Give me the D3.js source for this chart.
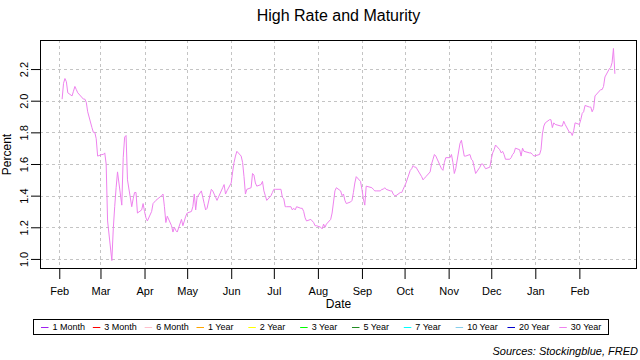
<!DOCTYPE html>
<html><head><meta charset="utf-8">
<script src="https://cdn.jsdelivr.net/npm/d3@7"></script>
<style>
body{margin:0;background:#fff}
svg{display:block}
text{font-family:"Liberation Sans",Arial,sans-serif;fill:#000}
</style>
</head><body>
<svg id="chart" width="640" height="360"></svg>
<script>
// ---- data (30 Year rate, percent) ----
const dates = [
"2020-02-03","2020-02-04","2020-02-05","2020-02-06","2020-02-07","2020-02-10","2020-02-11","2020-02-12","2020-02-13","2020-02-14","2020-02-18","2020-02-19","2020-02-20","2020-02-21","2020-02-24","2020-02-25","2020-02-26","2020-02-27","2020-02-28",
"2020-03-02","2020-03-03","2020-03-04","2020-03-05","2020-03-06","2020-03-09","2020-03-10","2020-03-11","2020-03-12","2020-03-13","2020-03-16","2020-03-17","2020-03-18","2020-03-19","2020-03-20","2020-03-23","2020-03-24","2020-03-25","2020-03-26","2020-03-27","2020-03-30","2020-03-31",
"2020-04-01","2020-04-02","2020-04-03","2020-04-06","2020-04-07","2020-04-08","2020-04-09","2020-04-13","2020-04-14","2020-04-15","2020-04-16","2020-04-17","2020-04-20","2020-04-21","2020-04-22","2020-04-23","2020-04-24","2020-04-27","2020-04-28","2020-04-29","2020-04-30",
"2020-05-01","2020-05-04","2020-05-05","2020-05-06","2020-05-07","2020-05-08","2020-05-11","2020-05-12","2020-05-13","2020-05-14","2020-05-15","2020-05-18","2020-05-19","2020-05-20","2020-05-21","2020-05-22","2020-05-26","2020-05-27","2020-05-28","2020-05-29",
"2020-06-01","2020-06-02","2020-06-03","2020-06-04","2020-06-05","2020-06-08","2020-06-09","2020-06-10","2020-06-11","2020-06-12","2020-06-15","2020-06-16","2020-06-17","2020-06-18","2020-06-19","2020-06-22","2020-06-23","2020-06-24","2020-06-25","2020-06-26","2020-06-29","2020-06-30",
"2020-07-01","2020-07-02","2020-07-06","2020-07-07","2020-07-08","2020-07-09","2020-07-10","2020-07-13","2020-07-14","2020-07-15","2020-07-16","2020-07-17","2020-07-20","2020-07-21","2020-07-22","2020-07-23","2020-07-24","2020-07-27","2020-07-28","2020-07-29","2020-07-30","2020-07-31",
"2020-08-03","2020-08-04","2020-08-05","2020-08-06","2020-08-07","2020-08-10","2020-08-11","2020-08-12","2020-08-13","2020-08-14","2020-08-17","2020-08-18","2020-08-19","2020-08-20","2020-08-21","2020-08-24","2020-08-25","2020-08-26","2020-08-27","2020-08-28","2020-08-31",
"2020-09-01","2020-09-02","2020-09-03","2020-09-04","2020-09-08","2020-09-09","2020-09-10","2020-09-11","2020-09-14","2020-09-15","2020-09-16","2020-09-17","2020-09-18","2020-09-21","2020-09-22","2020-09-23","2020-09-24","2020-09-25","2020-09-28","2020-09-29","2020-09-30",
"2020-10-01","2020-10-02","2020-10-05","2020-10-06","2020-10-07","2020-10-08","2020-10-09","2020-10-13","2020-10-14","2020-10-15","2020-10-16","2020-10-19","2020-10-20","2020-10-21","2020-10-22","2020-10-23","2020-10-26","2020-10-27","2020-10-28","2020-10-29","2020-10-30",
"2020-11-02","2020-11-03","2020-11-04","2020-11-05","2020-11-06","2020-11-09","2020-11-10","2020-11-12","2020-11-13","2020-11-16","2020-11-17","2020-11-18","2020-11-19","2020-11-20","2020-11-23","2020-11-24","2020-11-25","2020-11-27","2020-11-30",
"2020-12-01","2020-12-02","2020-12-03","2020-12-04","2020-12-07","2020-12-08","2020-12-09","2020-12-10","2020-12-11","2020-12-14","2020-12-15","2020-12-16","2020-12-17","2020-12-18","2020-12-21","2020-12-22","2020-12-23","2020-12-24","2020-12-28","2020-12-29","2020-12-30","2020-12-31",
"2021-01-04","2021-01-05","2021-01-06","2021-01-07","2021-01-08","2021-01-11","2021-01-12","2021-01-13","2021-01-14","2021-01-15","2021-01-19","2021-01-20","2021-01-21","2021-01-22","2021-01-25","2021-01-26","2021-01-27","2021-01-28","2021-01-29",
"2021-02-01","2021-02-02","2021-02-03","2021-02-04","2021-02-05","2021-02-08","2021-02-09","2021-02-10","2021-02-11","2021-02-12","2021-02-16","2021-02-17","2021-02-18","2021-02-19","2021-02-22","2021-02-23","2021-02-24","2021-02-25","2021-02-26"
];
const rate30 = [
2.01,2.11,2.14,2.12,2.05,2.03,2.06,2.09,2.07,2.05,2.01,2.01,1.99,1.93,1.83,1.80,1.80,1.76,1.65,
1.66,1.66,1.67,1.60,1.24,0.99,1.19,1.33,1.45,1.55,1.34,1.64,1.77,1.78,1.50,1.33,1.38,1.42,1.42,1.29,1.31,1.35,
1.30,1.26,1.24,1.30,1.35,1.36,1.37,1.40,1.41,1.33,1.23,1.27,1.21,1.17,1.20,1.18,1.17,1.25,1.21,1.24,1.27,
1.29,1.30,1.33,1.41,1.31,1.39,1.43,1.39,1.35,1.31,1.32,1.44,1.43,1.41,1.39,1.37,1.45,1.47,1.41,1.43,
1.48,1.55,1.61,1.65,1.68,1.65,1.61,1.52,1.41,1.44,1.45,1.54,1.53,1.48,1.46,1.47,1.49,1.43,1.40,1.37,1.40,1.42,
1.44,1.44,1.44,1.39,1.38,1.33,1.33,1.33,1.31,1.32,1.31,1.33,1.32,1.32,1.30,1.26,1.24,1.25,1.24,1.23,1.21,1.21,
1.20,1.19,1.22,1.20,1.22,1.25,1.29,1.36,1.43,1.45,1.43,1.40,1.41,1.37,1.35,1.36,1.37,1.42,1.48,1.52,1.49,
1.44,1.38,1.34,1.46,1.45,1.44,1.43,1.43,1.43,1.44,1.44,1.45,1.44,1.43,1.43,1.41,1.40,1.40,1.42,1.42,1.44,
1.46,1.48,1.56,1.57,1.59,1.58,1.58,1.52,1.50,1.51,1.52,1.55,1.60,1.63,1.66,1.65,1.59,1.57,1.56,1.61,1.64,
1.64,1.66,1.61,1.54,1.57,1.73,1.75,1.65,1.65,1.66,1.63,1.62,1.58,1.54,1.58,1.60,1.60,1.57,1.58,
1.63,1.67,1.69,1.72,1.69,1.67,1.68,1.66,1.63,1.63,1.64,1.66,1.67,1.70,1.69,1.65,1.70,1.68,1.67,1.67,1.66,1.65,
1.66,1.69,1.79,1.84,1.86,1.88,1.88,1.83,1.86,1.85,1.84,1.84,1.87,1.85,1.80,1.80,1.78,1.81,1.86,
1.85,1.88,1.92,1.93,1.97,1.96,1.96,1.93,1.95,2.03,2.07,2.07,2.09,2.15,2.20,2.21,2.24,2.33,2.17
];
const monthTicks = ["2020-02-01","2020-03-01","2020-04-01","2020-05-01","2020-06-01","2020-07-01","2020-08-01","2020-09-01","2020-10-01","2020-11-01","2020-12-01","2021-01-01","2021-02-01"];
const yTicks = [1.0,1.2,1.4,1.6,1.8,2.0,2.2];
const seriesNames = ["1 Month","3 Month","6 Month","1 Year","2 Year","3 Year","5 Year","7 Year","10 Year","20 Year","30 Year"];
const seriesColors = ["#A020F0","#FF0000","#FFC0CB","#FFA500","#FFFF00","#00FF00","#228B22","#00FFFF","#87CEEB","#0000CD","#EE82EE"];
const plottedSeries = "30 Year";

// ---- layout ----
const L = 40, R = 637, T = 40, B = 269;
const parse = d3.utcParse("%Y-%m-%d");
const pts = dates.map((d, i) => ({date: parse(d), v: rate30[i]}));
const tickDates = monthTicks.map(parse);

const [d0, d1] = d3.extent(pts, p => p.date);
const dPad = (d1 - d0) * 0.04;
const x = d3.scaleUtc().domain([new Date(+d0 - dPad), new Date(+d1 + dPad)]).range([L, R]);
const [v0, v1] = d3.extent(pts, p => p.v);
const vPad = (v1 - v0) * 0.04;
const y = d3.scaleLinear().domain([v0 - vPad, v1 + vPad]).range([B, T]);

const svg = d3.select("#chart");
svg.append("rect").attr("width", 640).attr("height", 360).attr("fill", "#fff");

// grid
const grid = svg.append("g").attr("stroke", "#c4c4c4").attr("stroke-dasharray", "3,3").attr("stroke-width", 1);
grid.selectAll("line.v").data(tickDates).join("line")
  .attr("x1", d => Math.round(x(d)) + 0.5).attr("x2", d => Math.round(x(d)) + 0.5)
  .attr("y1", T).attr("y2", B);
grid.selectAll("line.h").data(yTicks).join("line")
  .attr("y1", d => Math.round(y(d)) + 0.5).attr("y2", d => Math.round(y(d)) + 0.5)
  .attr("x1", L).attr("x2", R);

// line
const line = d3.line().x(p => x(p.date)).y(p => y(p.v));
svg.append("path").datum(pts).attr("d", line)
  .attr("fill", "none").attr("stroke", seriesColors[seriesNames.indexOf(plottedSeries)]).attr("stroke-width", 1);

// x axis
const fmt = d3.utcFormat("%b");
const xAxis = svg.append("g").attr("transform", `translate(0,${B})`)
  .call(d3.axisBottom(x).tickValues(tickDates).tickFormat(fmt).tickSize(10).tickPadding(8.5));
xAxis.select(".domain").remove();
xAxis.selectAll(".tick line").attr("stroke", "#000");
xAxis.selectAll(".tick text").attr("font-size", 11).attr("font-family", "Liberation Sans, Arial, sans-serif").attr("fill", "#000");

// y axis
const yAxis = svg.append("g").attr("transform", `translate(${L},0)`)
  .call(d3.axisLeft(y).tickValues(yTicks).tickFormat(d3.format(".1f")).tickSize(9));
yAxis.select(".domain").remove();
yAxis.selectAll(".tick line").attr("stroke", "#000");
yAxis.selectAll(".tick text")
  .attr("x", null).attr("dy", null).attr("y", 0)
  .attr("text-anchor", "middle")
  .attr("transform", "translate(-12.5,0) rotate(-90)")
  .attr("font-size", 11).attr("font-family", "Liberation Sans, Arial, sans-serif").attr("fill", "#000");

// frame
svg.append("rect").attr("x", L + 0.5).attr("y", T + 0.5).attr("width", R - L - 1).attr("height", B - T - 1)
  .attr("fill", "none").attr("stroke", "#000").attr("stroke-width", 1);

// titles
svg.append("text").attr("x", (L + R) / 2).attr("y", 21).attr("text-anchor", "middle")
  .attr("font-size", 16).text("High Rate and Maturity");
svg.append("text").attr("x", (L + R) / 2).attr("y", 307.5).attr("text-anchor", "middle")
  .attr("font-size", 12).text("Date");
svg.append("text").attr("transform", `translate(10.5,${(T + B) / 2}) rotate(-90)`).attr("text-anchor", "middle")
  .attr("font-size", 12).text("Percent");

// legend
const lg = svg.append("g");
lg.append("rect").attr("x", 33.5).attr("y", 319.5).attr("width", 575).attr("height", 15)
  .attr("fill", "#fff").attr("stroke", "#000").attr("stroke-width", 1);
const lx = d3.scaleLinear().domain([0, seriesNames.length - 1]).range([41, 559.3]);
const items = lg.selectAll("g.item").data(seriesNames).join("g")
  .attr("transform", (d, i) => `translate(${lx(i)},327)`);
items.append("line").attr("x1", 0).attr("x2", 7.5).attr("y1", 0.5).attr("y2", 0.5)
  .attr("stroke", (d, i) => seriesColors[i]).attr("stroke-width", 1);
items.append("text").attr("x", 11.5).attr("y", 3.3).attr("font-size", 9).text(d => d);

// source
svg.append("text").attr("x", 638).attr("y", 354.5).attr("text-anchor", "end")
  .attr("font-size", 11).attr("font-style", "italic").text("Sources: Stockingblue, FRED");
</script>
</body></html>
